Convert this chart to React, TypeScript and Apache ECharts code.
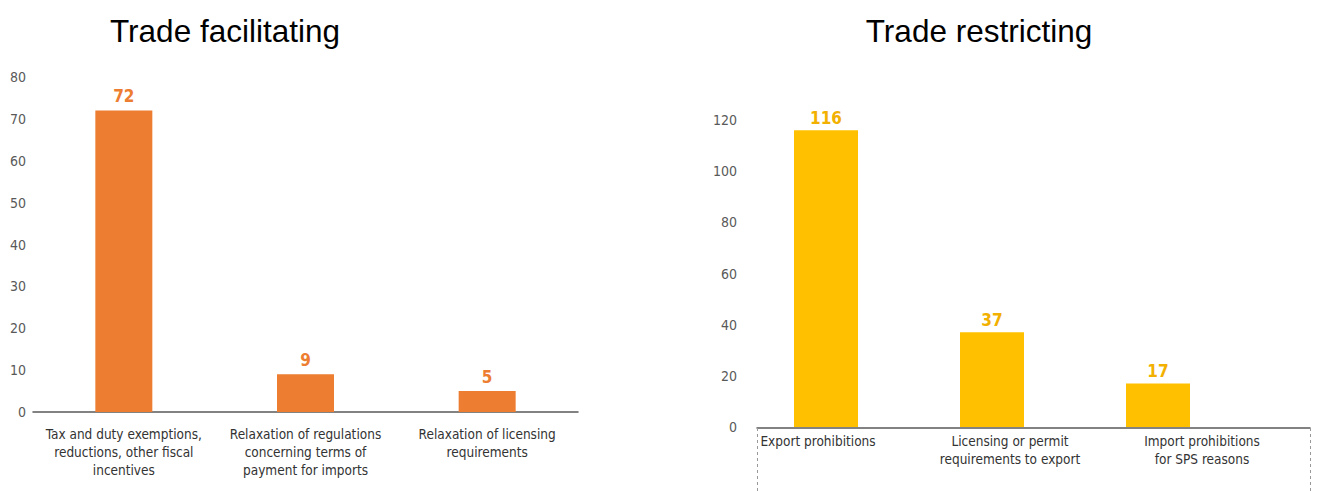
import React, { useEffect, useRef } from "react";
import * as echarts from "echarts";

const facilitatingCategories = [
  "Tax and duty exemptions,\nreductions, other fiscal\nincentives",
  "Relaxation of regulations\nconcerning terms of\npayment for imports",
  "Relaxation of licensing\nrequirements",
];
const facilitatingValues = [72, 9, 5];

const restrictingCategories = [
  "Export prohibitions",
  "Licensing or permit\nrequirements to export",
  "Import prohibitions\nfor SPS reasons",
];
const restrictingValues = [116, 37, 17];

const titles = ["Trade facilitating", "Trade restricting"];

const NARROW = "'Liberation Sans Narrow', 'Arial Narrow', 'DejaVu Sans Condensed', sans-serif";
const TITLE_FONT = "'Liberation Sans', Arial, sans-serif";
const ORANGE = "#ED7D31";
const GOLD = "#FFC000";
const GOLD_LABEL = "#F2B000";
const AXIS = "#595959";

export default function App() {
  const ref = useRef<HTMLDivElement>(null);
  useEffect(() => {
    if (!ref.current) return;
    const chart = echarts.init(ref.current, null, { renderer: "svg" });
    const titleStyle = { fontFamily: TITLE_FONT, fontSize: 31.5, fontWeight: "normal", color: "#000" };
    chart.setOption({
      animation: false,
      backgroundColor: "#ffffff",
      title: [
        { text: titles[0], left: 220, top: 10, textAlign: "center", textStyle: titleStyle },
        { text: titles[1], left: 974, top: 10, textAlign: "center", textStyle: titleStyle },
      ],
      grid: [
        { left: 33, top: 77, width: 545, height: 335 },
        { left: 743, top: 120, width: 498, height: 307 },
        { left: 757, top: 120, width: 553, height: 308 },
        { left: 722, top: 120, width: 576, height: 308 },
      ],
      xAxis: [
        {
          type: "category",
          gridIndex: 0,
          data: facilitatingCategories,
          axisLine: { lineStyle: { color: AXIS, width: 1.5 } },
          axisTick: { show: false },
          axisLabel: { fontFamily: NARROW, fontSize: 13.5, color: "#333", lineHeight: 18, margin: 13, interval: 0 },
        },
        {
          type: "category",
          gridIndex: 1,
          data: restrictingCategories,
          axisLine: { show: false },
          axisTick: { show: false },
          axisLabel: { show: false },
        },
        {
          type: "category",
          gridIndex: 2,
          data: [""],
          axisLine: { lineStyle: { color: AXIS, width: 1.5 } },
          axisTick: { show: true, length: 64, lineStyle: { color: "#999", type: [3, 3], width: 1 } },
          axisLabel: { show: false },
        },
        {
          type: "category",
          gridIndex: 3,
          data: restrictingCategories,
          axisLine: { show: false },
          axisTick: { show: false },
          axisLabel: { fontFamily: NARROW, fontSize: 13.5, color: "#333", lineHeight: 18, margin: 4, interval: 0 },
        },
      ],
      yAxis: [
        {
          type: "value",
          gridIndex: 0,
          min: 0,
          max: 80,
          interval: 10,
          splitLine: { show: false },
          axisLine: { show: false },
          axisLabel: { fontFamily: NARROW, fontSize: 14, color: AXIS, margin: 7 },
        },
        {
          type: "value",
          gridIndex: 1,
          min: 0,
          max: 120,
          interval: 20,
          splitLine: { show: false },
          axisLine: { show: false },
          axisLabel: { fontFamily: NARROW, fontSize: 14, color: AXIS, margin: 6 },
        },
        { type: "value", gridIndex: 2, show: false, min: 0, max: 1 },
        { type: "value", gridIndex: 3, show: false, min: 0, max: 1 },
      ],
      series: [
        {
          type: "bar",
          xAxisIndex: 0,
          yAxisIndex: 0,
          data: facilitatingValues,
          barWidth: 57,
          itemStyle: { color: ORANGE },
          label: {
            show: true,
            position: "top",
            distance: 6,
            color: ORANGE,
            fontFamily: NARROW,
            fontWeight: "bold",
            fontSize: 17,
          },
        },
        {
          type: "bar",
          xAxisIndex: 1,
          yAxisIndex: 1,
          data: restrictingValues,
          barWidth: 64,
          itemStyle: { color: GOLD },
          label: {
            show: true,
            position: "top",
            distance: 4,
            color: GOLD_LABEL,
            fontFamily: NARROW,
            fontWeight: "bold",
            fontSize: 17,
          },
        },
      ],
    });
    return () => chart.dispose();
  }, []);
  return (
    <div
      ref={ref}
      style={{ position: "fixed", left: 0, top: 0, width: 1319, height: 491, background: "#fff" }}
    />
  );
}
